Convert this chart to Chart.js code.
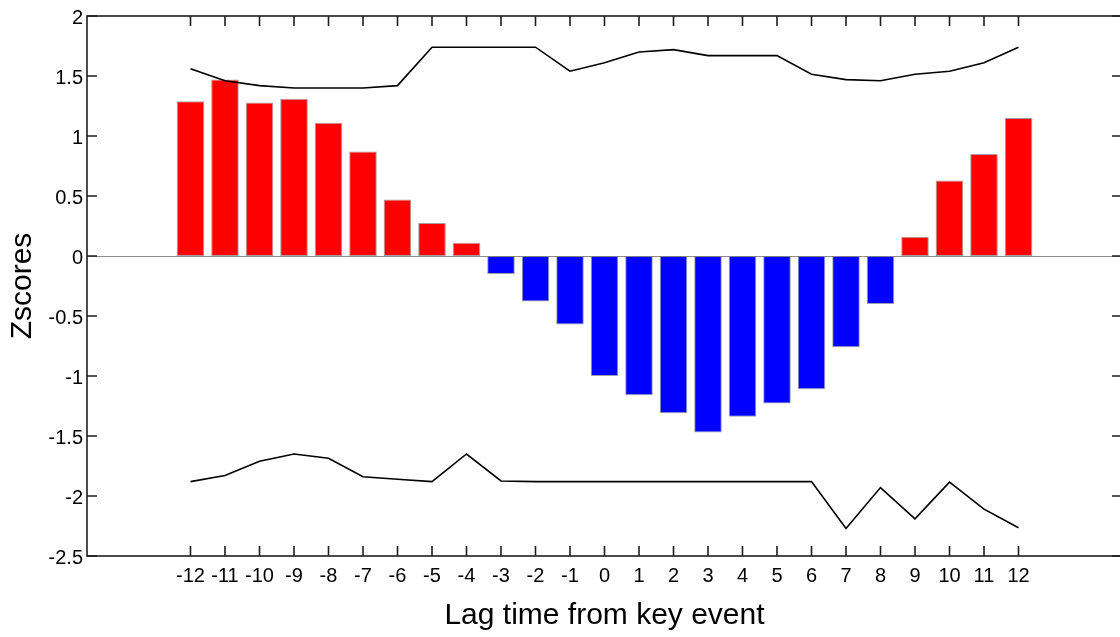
<!DOCTYPE html>
<html>
<head>
<meta charset="utf-8">
<title>Zscores by lag</title>
<script src="https://cdn.jsdelivr.net/npm/chart.js@4/dist/chart.umd.min.js"></script>
<style>
  html, body { margin: 0; padding: 0; background: #fff; overflow: hidden; }
  #wrap { position: relative; width: 1130px; height: 637px; }
</style>
</head>
<body>
<div id="wrap"><canvas id="chart"></canvas></div>
<script>
'use strict';

// ***** DATA *****
let lags = [-12, -11, -10, -9, -8, -7, -6, -5, -4, -3, -2, -1, 0, 1, 2, 3, 4, 5, 6, 7, 8, 9, 10, 11, 12];
let zscores = [1.29, 1.47, 1.28, 1.31, 1.11, 0.87, 0.47, 0.275, 0.11, -0.15, -0.38, -0.57, -1.0, -1.16, -1.31, -1.47, -1.34, -1.23, -1.11, -0.76, -0.40, 0.16, 0.63, 0.85, 1.15];
let upperBound = [1.56, 1.46, 1.42, 1.40, 1.40, 1.40, 1.42, 1.74, 1.74, 1.74, 1.74, 1.54, 1.61, 1.70, 1.72, 1.67, 1.67, 1.67, 1.515, 1.47, 1.46, 1.515, 1.54, 1.61, 1.74];
let lowerBound = [-1.88, -1.83, -1.71, -1.65, -1.685, -1.84, -1.86, -1.88, -1.65, -1.875, -1.88, -1.88, -1.88, -1.88, -1.88, -1.88, -1.88, -1.88, -1.88, -2.27, -1.93, -2.19, -1.885, -2.11, -2.265];
let yTicks = [-2.5, -2, -1.5, -1, -0.5, 0, 0.5, 1, 1.5, 2];

const FONT = 'Liberation Sans, Arial, Helvetica, sans-serif';

// ***** HELPERS *****
function toPoints(values) {
  return lags.map((lag, i) => ({ x: lag, y: values[i] }));
}

// zero line under the bars
const zeroLine = {
  id: 'zeroLine',
  beforeDatasetsDraw(chart) {
    const { ctx, chartArea: a, scales: { y } } = chart;
    const py = Math.round(y.getPixelForValue(0)) + 0.5;
    ctx.save();
    ctx.strokeStyle = '#8c8c8c';
    ctx.lineWidth = 1;
    ctx.beginPath();
    ctx.moveTo(a.left, py);
    ctx.lineTo(a.right, py);
    ctx.stroke();
    ctx.restore();
  }
};

// box round the plot with inward ticks on all four sides
const frame = {
  id: 'frame',
  afterDatasetsDraw(chart) {
    const { ctx, chartArea: a, scales: { x, y } } = chart;
    const len = 10;
    ctx.save();
    ctx.strokeStyle = '#1e1e1e';
    ctx.lineWidth = 1.6;
    ctx.strokeRect(a.left, a.top, a.right - a.left, a.bottom - a.top);
    ctx.beginPath();
    lags.filter(v => Math.abs(v) <= 12).forEach(v => {
      const px = x.getPixelForValue(v);
      ctx.moveTo(px, a.bottom);
      ctx.lineTo(px, a.bottom - len);
      ctx.moveTo(px, a.top);
      ctx.lineTo(px, a.top + len);
    });
    yTicks.forEach(v => {
      const py = y.getPixelForValue(v);
      ctx.moveTo(a.left, py);
      ctx.lineTo(a.left + len, py);
      ctx.moveTo(a.right, py);
      ctx.lineTo(a.right - len, py);
    });
    ctx.stroke();
    ctx.restore();
  }
};

// ***** CHART *****
let chartObj = {
  type: 'bar',
  data: {
    datasets: [
      {
        type: 'line',
        label: 'upper',
        data: toPoints(upperBound),
        borderColor: '#000',
        borderWidth: 1.6,
        pointRadius: 0,
        tension: 0,
        fill: false
      },
      {
        type: 'line',
        label: 'lower',
        data: toPoints(lowerBound),
        borderColor: '#000',
        borderWidth: 1.6,
        pointRadius: 0,
        tension: 0,
        fill: false
      },
      {
        label: 'Zscores',
        data: toPoints(zscores),
        backgroundColor: zscores.map(v => v >= 0 ? '#ff0000' : '#0000ff'),
        borderColor: 'rgba(120,120,120,0.7)',
        borderWidth: 1,
        borderSkipped: false,
        categoryPercentage: 0.8,
        barPercentage: 1.0
      }
    ]
  },
  options: {
    responsive: true,
    maintainAspectRatio: false,
    animation: false,
    layout: { padding: { top: 15, right: 7, left: 0, bottom: 0 } },
    plugins: {
      legend: { display: false },
      tooltip: { enabled: false }
    },
    scales: {
      x: {
        type: 'linear',
        min: -15,
        max: 15,
        offset: false,
        grid: { display: false, drawTicks: false, color: 'transparent', tickColor: 'transparent' },
        border: { display: false },
        ticks: {
          stepSize: 1,
          autoSkip: false,
          maxRotation: 0,
          padding: 8,
          color: '#000',
          font: { family: FONT, size: 20 },
          callback: v => (lags.includes(v) ? String(v) : '')
        },
        title: {
          display: true,
          text: 'Lag time from key event',
          color: '#000',
          font: { family: FONT, size: 30 },
          padding: { top: 0, bottom: 3 }
        },
        afterFit: scale => { scale.height = 81; }
      },
      y: {
        min: -2.5,
        max: 2,
        grid: { display: false, drawTicks: false, color: 'transparent', tickColor: 'transparent' },
        border: { display: false },
        ticks: {
          stepSize: 0.5,
          padding: 4,
          labelOffset: 2,
          color: '#000',
          font: { family: FONT, size: 20 },
          callback: v => String(v)
        },
        title: {
          display: true,
          text: 'Zscores',
          color: '#000',
          font: { family: FONT, size: 30 },
          padding: { top: 5, bottom: 0 }
        },
        afterFit: scale => { scale.width = 87; }
      }
    }
  },
  plugins: [zeroLine, frame]
};

new Chart(document.getElementById('chart'), chartObj);
</script>
</body>
</html>
